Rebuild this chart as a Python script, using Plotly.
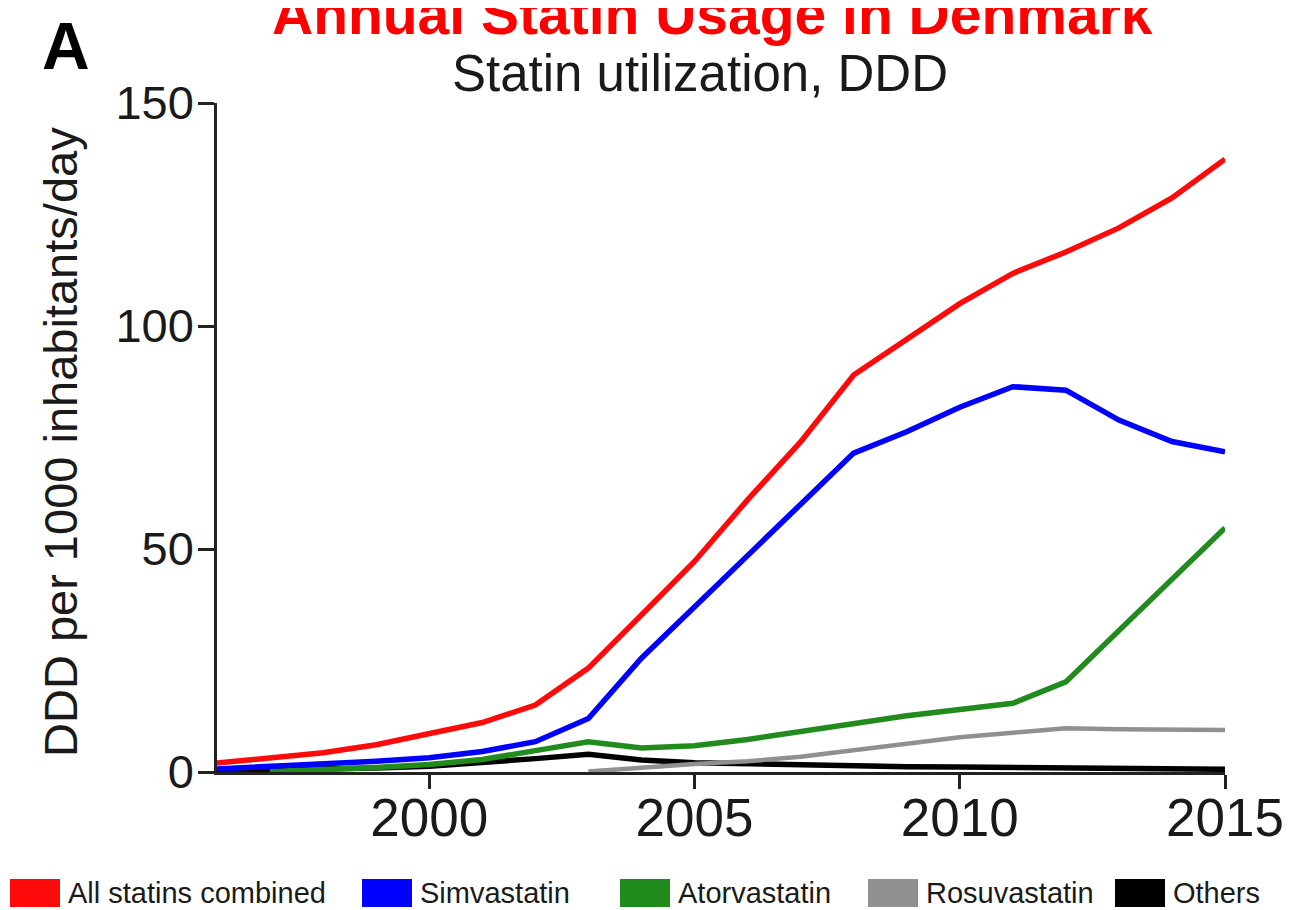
import plotly.graph_objects as go

# ---------------- data ----------------
years = list(range(1996, 2016))
series_names = ["All statins combined", "Simvastatin", "Atorvastatin", "Rosuvastatin", "Others"]
all_statins = [2.0, 3.0, 4.3, 6.1, 8.7, 11.1, 15.0, 23.3, 35.2, 47.2,
               61.0, 74.0, 89.0, 97.0, 105.0, 111.8, 116.6, 122.0, 128.7, 137.4]
simvastatin = [0.7, 1.2, 1.8, 2.4, 3.2, 4.6, 6.8, 12.0, 25.5, 37.0,
               48.5, 60.0, 71.5, 76.3, 81.8, 86.4, 85.6, 78.9, 74.1, 71.8]
atorvastatin = [None, 0.1, 0.4, 1.0, 1.7, 2.8, 4.8, 6.8, 5.4, 5.9,
                7.3, 9.0, 11.0, 12.6, 14.0, 15.4, 20.2, 31.8, 43.3, 54.7]
rosuvastatin = [None, None, None, None, None, None, None, 0.1, 1.0, 1.8,
                2.4, 3.4, 4.9, 6.4, 7.8, 8.8, 9.8, 9.6, 9.4, 9.4]
others = [0.3, 0.4, 0.6, 0.9, 1.3, 2.0, 3.0, 4.0, 2.7, 2.1,
          1.8, 1.6, 1.4, 1.2, 1.1, 1.0, 0.9, 0.8, 0.7, 0.6]
x_ticks = [2000, 2005, 2010, 2015]
y_ticks = [0, 50, 100, 150]

# ---------------- styles ----------------
colors = ["#FF0A0A", "#0000FF", "#228B1E", "#909090", "#000000"]
widths = [5.5, 5.5, 5.5, 4.5, 5.5]
values = [all_statins, simvastatin, atorvastatin, rosuvastatin, others]

OFF = 8  # page body margin of the browser
W, H = 1291 - OFF, 910 - OFF
# plot area in reference pixel coordinates
X0, X1, Y0, Y1 = 217, 1225, 103, 772
L, R, T, B = X0 - OFF, W - (X1 - OFF), Y0 - OFF, H - (Y1 - OFF)
PW, PH = X1 - X0, Y1 - Y0

def px(xp):
    return (xp - X0) / PW

def py(yp):
    return (Y1 - yp) / PH

FONT = "Liberation Sans, Arial, sans-serif"
TXT = "#1a1a1a"

fig = go.Figure()
draw_order = [4, 3, 2, 1, 0]
for i in draw_order:
    fig.add_trace(go.Scatter(
        x=years, y=values[i], mode="lines", name=series_names[i],
        line=dict(color=colors[i], width=widths[i]),
        showlegend=False, connectgaps=False,
    ))

fig.update_layout(
    width=W, height=H,
    margin=dict(l=L, r=R, t=T, b=B, autoexpand=False),
    paper_bgcolor="white", plot_bgcolor="white",
    font=dict(family=FONT, color=TXT),
    xaxis=dict(range=[1996, 2015], tickvals=x_ticks, ticks="outside", ticklen=14,
               tickwidth=2.5, tickcolor="#222", showline=True, linecolor="#222",
               linewidth=2.5, showgrid=False, zeroline=False, ticklabelstandoff=-16,
               tickfont=dict(family=FONT, size=53, color=TXT)),
    yaxis=dict(range=[0, 150], tickvals=y_ticks, ticks="outside", ticklen=16,
               tickwidth=2.5, tickcolor="#222", showline=True, linecolor="#222",
               linewidth=2.5, showgrid=False, zeroline=False, ticklabelstandoff=-5,
               tickfont=dict(family=FONT, size=47, color=TXT)),
)

annotations = [
    dict(text="<b>Annual Statin Usage in Denmark</b>", x=px(712), y=py(14),
         font=dict(family=FONT, size=57, color="#FF0000")),
    dict(text="<b>A</b>", x=px(66), y=py(46), font=dict(family=FONT, size=66, color="#000")),
    dict(text="Statin utilization, DDD", x=px(700), y=py(74),
         font=dict(family=FONT, size=51, color=TXT)),
    dict(text="DDD per 1000 inhabitants/day", x=px(60), y=py(442), textangle=-90,
         font=dict(family=FONT, size=47, color=TXT)),
]
for a in annotations:
    a.update(xref="paper", yref="paper", showarrow=False, xanchor="center", yanchor="middle")
    fig.add_annotation(**a)

# legend drawn below the plot
legend_x = [10, 362, 620, 868, 1115]
sw_w, sw_top, sw_bot, ly = 50, 879, 907, 893
for i, name in enumerate(series_names):
    fig.add_shape(type="rect", xref="paper", yref="paper",
                  x0=px(legend_x[i]), x1=px(legend_x[i] + sw_w),
                  y0=py(sw_bot), y1=py(sw_top),
                  fillcolor=colors[i], line=dict(width=0))
    fig.add_annotation(text=name, xref="paper", yref="paper",
                       x=px(legend_x[i] + sw_w + 6), y=py(ly), xanchor="left",
                       yanchor="middle", showarrow=False,
                       font=dict(family=FONT, size=29, color=TXT))

fig.write_html("out.html")
